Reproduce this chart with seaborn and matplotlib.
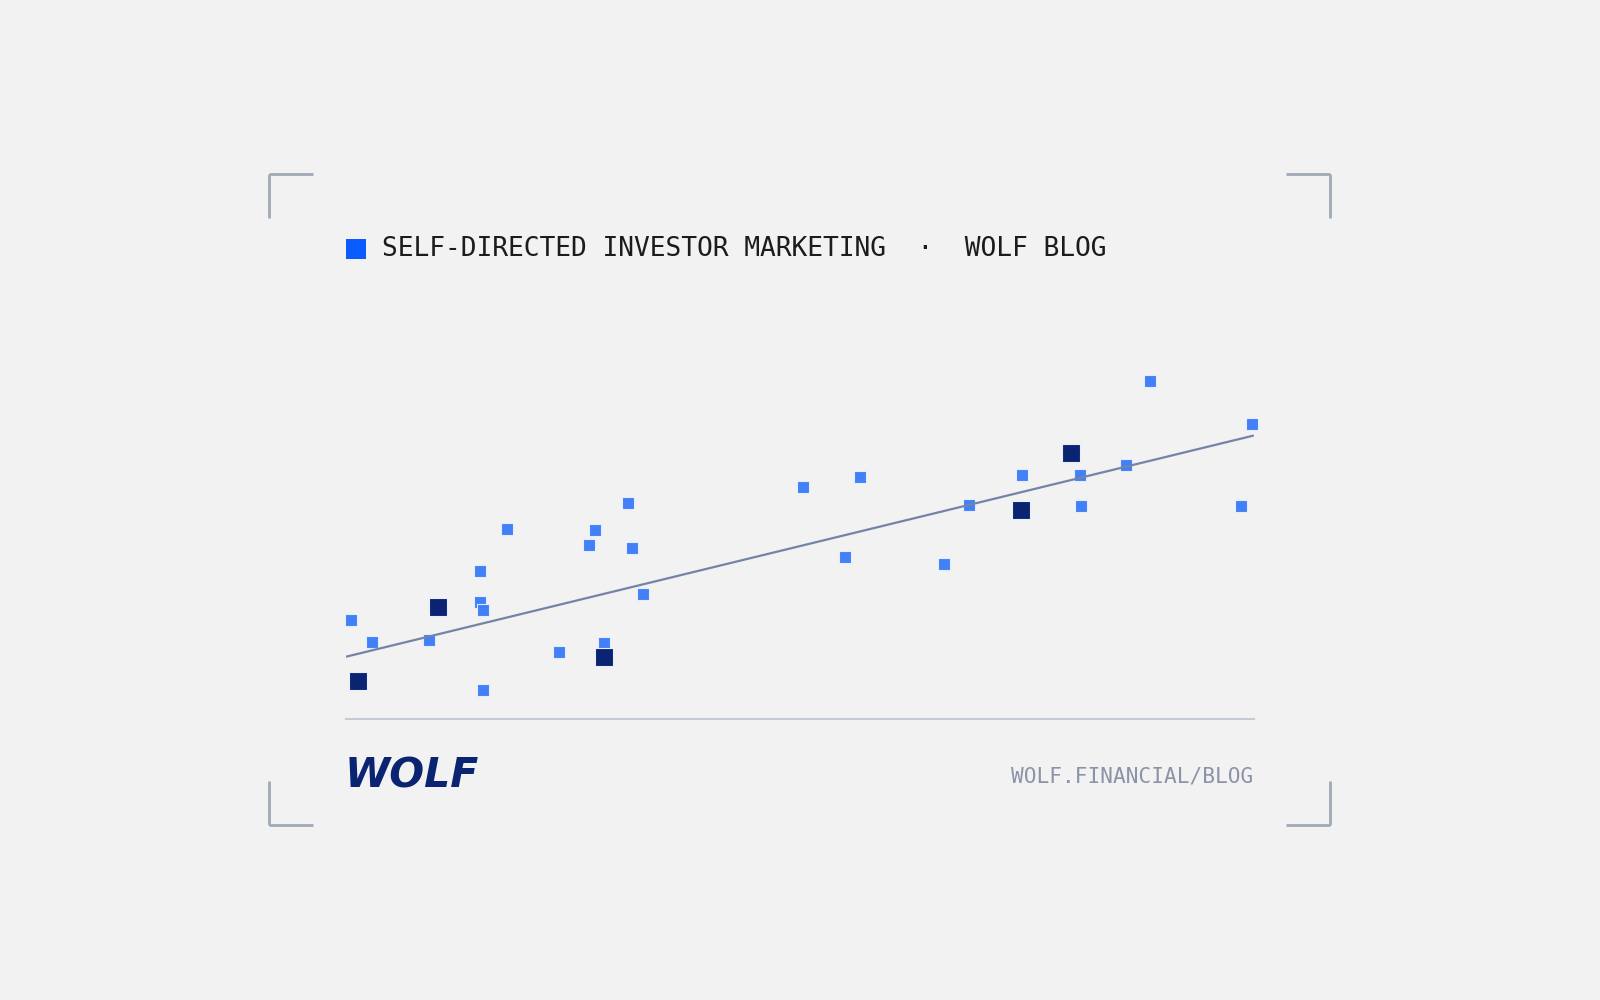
import numpy as np
import pandas as pd
import matplotlib
matplotlib.use("Agg")
import matplotlib.pyplot as plt
from matplotlib.patches import Rectangle
import seaborn as sns

# ---- data ----
x_light = [0.6, 2.9, 9.1, 14.8, 14.8, 15.1, 15.1, 17.7, 23.5, 26.8, 27.4, 28.4,
           31.1, 31.5, 32.7, 50.3, 55.0, 56.6, 65.9, 68.6, 74.4, 80.8, 80.9,
           85.9, 88.6, 98.6, 99.8]
y_light = [27.5, 21.5, 21.9, 41.0, 32.4, 30.3, 8.0, 52.7, 18.7, 48.4, 52.6, 21.2,
           60.1, 47.4, 34.6, 64.5, 45.1, 67.1, 43.1, 59.4, 67.9, 67.9, 59.3,
           70.5, 93.8, 59.3, 81.9]
x_dark = [1.3, 10.1, 28.4, 74.3, 79.9]
y_dark = [10.5, 31.2, 17.3, 58.0, 74.0]

# trend line as drawn in the reference (end points)
trend_x = [0.0, 99.9]
trend_y = [17.3, 78.7]

title_text = "SELF-DIRECTED INVESTOR MARKETING  \u00b7  WOLF BLOG"
footer_text = "WOLF.FINANCIAL/BLOG"
logo_text = "WOLF"

BG = "#f2f2f2"
LIGHT = "#3b7cf8"
DARK = "#0a2472"
LINE = "#7483a8"

df_light = pd.DataFrame({"x": x_light, "y": y_light})
df_dark = pd.DataFrame({"x": x_dark, "y": y_dark})
df_trend = pd.DataFrame({"x": trend_x, "y": trend_y})

sns.set_theme(style="white")
plt.rcParams["font.family"] = ["DejaVu Sans"]

W, H = 1600, 1000
fig = plt.figure(figsize=(16, 10), dpi=100, facecolor=BG)

# plot area (pixels): x 346..1254, y 359..719
ax = fig.add_axes([346 / W, (H - 719) / H, 908 / W, 360 / H])
ax.set_facecolor(BG)

sns.scatterplot(data=df_light, x="x", y="y", ax=ax, marker="s", s=64,
                color=LIGHT, edgecolor="#e8eefb", linewidth=0.8, alpha=0.97,
                zorder=2, clip_on=False, legend=False)
sns.lineplot(data=df_trend, x="x", y="y", ax=ax, color=LINE, lw=1.6,
             zorder=3, legend=False)
sns.scatterplot(data=df_dark, x="x", y="y", ax=ax, marker="s", s=170,
                color=DARK, edgecolor="#e8eefb", linewidth=0.8, alpha=1.0,
                zorder=4, clip_on=False, legend=False)
ax.set_xlim(0, 100)
ax.set_ylim(0, 100)

for s in ["top", "right", "left"]:
    ax.spines[s].set_visible(False)
ax.spines["bottom"].set_color("#c5cad8")
ax.spines["bottom"].set_linewidth(1.5)
ax.set_xticks([])
ax.set_yticks([])
ax.set_xlabel("")
ax.set_ylabel("")

# ---- decoration overlay in pixel coords ----
ov = fig.add_axes([0, 0, 1, 1], zorder=-1)
ov.set_xlim(0, W)
ov.set_ylim(H, 0)
ov.axis("off")
ov.patch.set_alpha(0)

bc = "#a0a8b5"
lw = 2.0
arm = 44
for (cx, cy, dx, dy) in [(269, 174, 1, 1), (1330, 174, -1, 1),
                         (269, 825, 1, -1), (1330, 825, -1, -1)]:
    ov.plot([cx, cx + dx * arm], [cy, cy], color=bc, lw=lw, solid_capstyle="butt")
    ov.plot([cx, cx], [cy, cy + dy * arm], color=bc, lw=lw, solid_capstyle="butt")

ov.add_patch(Rectangle((346, 239), 20, 20, color="#0b5cff", lw=0))
ov.text(382, 249, title_text, family=["DejaVu Sans Mono"], fontsize=18.9,
        color="#1c1c1c", ha="left", va="center")

ov.text(1253, 776, footer_text, family=["DejaVu Sans Mono"], fontsize=15.2,
        color="#8a93a8", ha="right", va="center")

ov.text(345, 776, logo_text, family=["DejaVu Sans"], fontsize=29.5,
        fontweight="heavy", fontstyle="oblique", color="#0b2472",
        ha="left", va="center")

fig.savefig("out.png", dpi=100, facecolor=BG)
